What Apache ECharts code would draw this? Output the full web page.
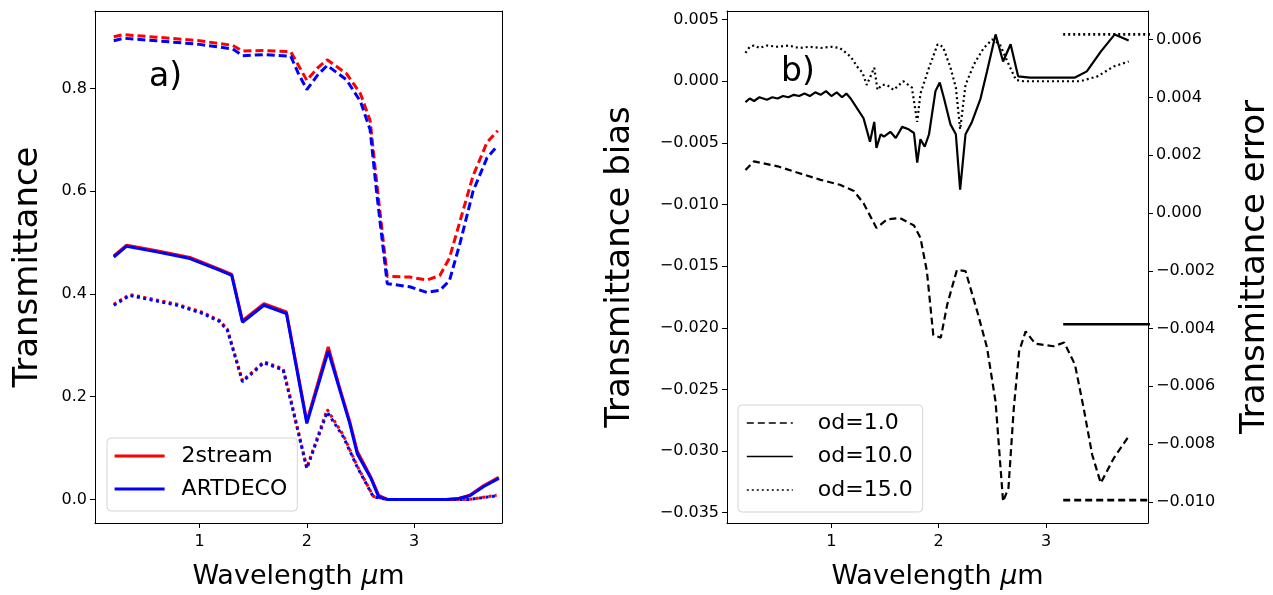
<!DOCTYPE html>
<html>
<head>
<meta charset="utf-8">
<script src="https://cdn.jsdelivr.net/npm/echarts@6/dist/echarts.min.js"></script>
<style>
html,body{margin:0;padding:0;background:#fff;}
#chart{width:1273px;height:595px;}
</style>
</head>
<body>
<div id="chart"></div>
<script>
// ---------- Panel a) : transmittance ----------
const wlA_dash = [0.2,0.29,0.6,1.0,1.31,1.40,1.6,1.85,1.92,2.0,2.1,2.19,2.37,2.5,2.59,2.65,2.75,2.96,3.12,3.24,3.33,3.43,3.55,3.68,3.78];
const red_dash  = [0.901,0.905,0.900,0.893,0.884,0.873,0.874,0.872,0.846,0.816,0.840,0.856,0.829,0.790,0.738,0.620,0.434,0.433,0.427,0.436,0.470,0.543,0.630,0.695,0.718];
const blue_dash = [0.893,0.898,0.893,0.886,0.877,0.864,0.866,0.863,0.830,0.798,0.826,0.845,0.817,0.775,0.720,0.600,0.420,0.414,0.403,0.407,0.426,0.500,0.600,0.665,0.689];

const wlA = [0.2,0.32,0.6,0.91,1.19,1.3,1.40,1.60,1.81,2.0,2.2,2.3,2.4,2.47,2.6,2.67,2.75,3.0,3.3,3.4,3.52,3.65,3.79];
const red_solid  = [0.474,0.495,0.484,0.471,0.448,0.438,0.348,0.381,0.365,0.152,0.297,0.222,0.152,0.094,0.042,0.008,0.0,0.0,0.0,0.001,0.008,0.027,0.043];
const blue_solid = [0.472,0.493,0.482,0.469,0.446,0.436,0.345,0.378,0.362,0.148,0.289,0.218,0.148,0.089,0.040,0.005,0.0,0.0,0.0,0.001,0.007,0.025,0.041];

const wlA_dot = [0.2,0.35,0.79,1.03,1.19,1.26,1.35,1.40,1.47,1.60,1.78,1.85,2.0,2.19,2.34,2.47,2.62,2.75,3.0,3.3,3.52,3.77];
const red_dot  = [0.380,0.399,0.380,0.364,0.348,0.331,0.267,0.231,0.244,0.268,0.254,0.195,0.062,0.175,0.125,0.065,0.006,0.0,0.0,0.0,0.0,0.008];
const blue_dot = [0.378,0.397,0.378,0.362,0.346,0.329,0.265,0.229,0.242,0.266,0.252,0.192,0.060,0.170,0.122,0.063,0.005,0.0,0.0,0.0,0.0,0.007];

// ---------- Panel b) : bias (left axis) ----------
const wlB_od1 = [0.2,0.28,0.5,0.68,0.9,1.08,1.21,1.30,1.42,1.52,1.64,1.77,1.83,1.89,1.95,2.02,2.08,2.17,2.25,2.36,2.45,2.53,2.60,2.65,2.70,2.75,2.81,2.90,3.07,3.17,3.27,3.35,3.43,3.51,3.63,3.77];
const bias_od1 = [-0.0072,-0.0065,-0.0069,-0.0074,-0.0080,-0.0084,-0.0089,-0.0099,-0.0119,-0.0112,-0.0111,-0.0117,-0.0127,-0.0154,-0.0206,-0.0208,-0.0181,-0.0153,-0.0154,-0.0187,-0.0216,-0.0260,-0.0341,-0.0330,-0.0265,-0.0219,-0.0203,-0.0213,-0.0215,-0.0212,-0.0230,-0.0265,-0.0303,-0.0326,-0.0306,-0.0288];

const wlB_od10 = [0.2,0.24,0.28,0.33,0.4,0.45,0.5,0.55,0.6,0.65,0.7,0.75,0.8,0.85,0.9,0.95,1.0,1.05,1.1,1.14,1.18,1.24,1.30,1.36,1.40,1.42,1.46,1.49,1.55,1.60,1.66,1.72,1.77,1.80,1.83,1.87,1.91,1.97,2.01,2.05,2.11,2.16,2.20,2.25,2.31,2.39,2.45,2.53,2.60,2.67,2.74,2.85,3.0,3.27,3.38,3.51,3.64,3.77];
const bias_od10 = [-0.0017,-0.0014,-0.0016,-0.0013,-0.0015,-0.0013,-0.0014,-0.0012,-0.0013,-0.0011,-0.0012,-0.0010,-0.0012,-0.0009,-0.0011,-0.0008,-0.0012,-0.0009,-0.0013,-0.0010,-0.0014,-0.0022,-0.0030,-0.0049,-0.0033,-0.0054,-0.0043,-0.0045,-0.0041,-0.0046,-0.0037,-0.0039,-0.0042,-0.0066,-0.0047,-0.0053,-0.0043,-0.0008,-0.0001,-0.0014,-0.0035,-0.0043,-0.0088,-0.0043,-0.0033,-0.0014,0.0008,0.0038,0.0016,0.0030,0.0004,0.0003,0.0003,0.0003,0.0008,0.0024,0.0038,0.0033];

const wlB_od15 = [0.2,0.24,0.28,0.33,0.4,0.5,0.6,0.7,0.8,0.9,1.0,1.08,1.18,1.24,1.29,1.33,1.40,1.43,1.47,1.52,1.58,1.67,1.75,1.80,1.83,1.91,1.99,2.04,2.11,2.16,2.20,2.25,2.33,2.42,2.50,2.57,2.64,2.72,2.79,3.0,3.32,3.48,3.63,3.77];
const bias_od15 = [0.0023,0.0028,0.0029,0.0027,0.0029,0.0028,0.0029,0.0027,0.0028,0.0027,0.0028,0.0027,0.0020,0.0012,0.0007,-0.0003,0.0011,-0.0007,-0.0003,-0.0003,-0.0007,0.0000,-0.0005,-0.0033,-0.0010,0.0011,0.0030,0.0028,0.0011,-0.0005,-0.0039,-0.0003,0.0014,0.0027,0.0034,0.0030,0.0016,0.0001,0.0000,0.0000,0.0000,0.0004,0.0012,0.0016];

// ---------- Panel b) : error (right axis) ----------
const wlB_err = [3.16,4.0];
const err_od1  = [-0.00994,-0.00994];
const err_od10 = [-0.00385,-0.00385];
const err_od15 = [0.00618,0.00618];

// ---------- tick labels ----------
const xTicks = [1,2,3];
const yTicksA = [0,0.2,0.4,0.6,0.8];
const yTicksBias = [-0.035,-0.03,-0.025,-0.02,-0.015,-0.01,-0.005,0,0.005];
const yTicksErr = [-0.010,-0.008,-0.006,-0.004,-0.002,0,0.002,0.004,0.006];

function zip(xs, ys){ return xs.map((x,i)=>[x, ys[i]]); }
function fmt(v, d){ const s = Math.abs(v).toFixed(d); return (v < -1e-12 ? '\u2212' : '') + s; }

const FONT = 'DejaVu Sans';
function xAxis(gridIndex, min, max){
  return {
    type:'value', gridIndex, min, max,
    name:'Wavelength {i|\u03bc}m', nameLocation:'middle', nameGap:40,
    nameTextStyle:{fontFamily:FONT, fontSize:27, color:'#000',
      rich:{i:{fontFamily:FONT, fontStyle:'italic', fontSize:27, color:'#000'}}},
    axisLine:{show:true, onZero:false, lineStyle:{color:'#000'}},
    axisTick:{show:true, inside:false, length:5, customValues:xTicks, lineStyle:{color:'#000'}},
    axisLabel:{show:true, customValues:xTicks, fontFamily:FONT, fontSize:16, color:'#000', margin:11,
      formatter:v=>String(v)},
    splitLine:{show:false}
  };
}
function topAxis(gridIndex, min, max){
  return {type:'value', gridIndex, min, max, position:'top',
    axisLine:{show:true, onZero:false, lineStyle:{color:'#000'}},
    axisTick:{show:false}, axisLabel:{show:false}, splitLine:{show:false}};
}

const lwA = 3, lwB = 2.2;
function lineSeries(name, xs, ys, color, type, width, xi, yi){
  return {
    name, type:'line', xAxisIndex:xi, yAxisIndex:yi, data:zip(xs,ys),
    showSymbol:false, symbol:'none', smooth:false, clip:true,
    lineStyle:{color, width, type},
    itemStyle:{color},
    emphasis:{disabled:true}, animation:false, z:2
  };
}

const dashA = [8,4], dotA = [3,3.5];
const dashB = [7,4], dotB = [2,3];

const legendCommon = {
  orient:'vertical', itemHeight:14, selectedMode:false,
  backgroundColor:'rgba(255,255,255,0.8)', borderColor:'#d5d5d5', borderWidth:1, borderRadius:4,
  itemStyle:{opacity:0, borderWidth:0}
};

const option = {
  animation:false,
  backgroundColor:'#fff',
  grid:[
    {left:95, top:11, width:407, height:512, containLabel:false},
    {left:727, top:11, width:421, height:512, containLabel:false}
  ],
  xAxis:[
    xAxis(0, 0.025, 3.82),
    xAxis(1, 0.028, 3.95),
    topAxis(0, 0.025, 3.82),
    topAxis(1, 0.028, 3.95)
  ],
  yAxis:[
    {type:'value', gridIndex:0, min:-0.046, max:0.951, position:'left',
      name:'Transmittance', nameLocation:'middle', nameGap:50, nameRotate:90,
      nameTextStyle:{fontFamily:FONT, fontSize:34, color:'#000'},
      axisLine:{show:true, onZero:false, lineStyle:{color:'#000'}},
      axisTick:{show:true, length:5, customValues:yTicksA, lineStyle:{color:'#000'}},
      axisLabel:{show:true, customValues:yTicksA, fontFamily:FONT, fontSize:16, color:'#000', margin:8, formatter:v=>fmt(v,1)},
      splitLine:{show:false}},
    {type:'value', gridIndex:0, min:-0.046, max:0.951, position:'right',
      axisLine:{show:true, onZero:false, lineStyle:{color:'#000'}},
      axisTick:{show:false}, axisLabel:{show:false}, splitLine:{show:false}},
    {type:'value', gridIndex:1, min:-0.03584, max:0.0057, position:'left',
      name:'Transmittance bias', nameLocation:'middle', nameGap:90, nameRotate:90,
      nameTextStyle:{fontFamily:FONT, fontSize:34, color:'#000'},
      axisLine:{show:true, onZero:false, lineStyle:{color:'#000'}},
      axisTick:{show:true, length:5, customValues:yTicksBias, lineStyle:{color:'#000'}},
      axisLabel:{show:true, customValues:yTicksBias, fontFamily:FONT, fontSize:16, color:'#000', margin:8, formatter:v=>fmt(v,3)},
      splitLine:{show:false}},
    {type:'value', gridIndex:1, min:-0.01073, max:0.00699, position:'right',
      name:'Transmittance error', nameLocation:'middle', nameGap:90, nameRotate:90,
      nameTextStyle:{fontFamily:FONT, fontSize:34, color:'#000'},
      axisLine:{show:true, onZero:false, lineStyle:{color:'#000'}},
      axisTick:{show:true, length:5, customValues:yTicksErr, lineStyle:{color:'#000'}},
      axisLabel:{show:true, customValues:yTicksErr, fontFamily:FONT, fontSize:16, color:'#000', margin:8, formatter:v=>fmt(v,3)},
      splitLine:{show:false}}
  ],
  title:[
    {text:'a)', left:144, top:56, textStyle:{fontFamily:FONT, fontSize:33, fontWeight:'normal', color:'#000'}},
    {text:'b)', left:776, top:51, textStyle:{fontFamily:FONT, fontSize:33, fontWeight:'normal', color:'#000'}}
  ],
  legend:[
    Object.assign({}, legendCommon, {data:['2stream','ARTDECO'], left:107, top:438,
      itemWidth:50, itemGap:11, padding:[7,10,11,6],
      lineStyle:{width:3.2},
      textStyle:{fontFamily:FONT, fontSize:22, color:'#000', lineHeight:22, padding:[0,0,0,12]}}),
    Object.assign({}, legendCommon, {data:['od=1.0','od=10.0','od=15.0'], left:738, top:405,
      itemWidth:46, itemGap:11.5, padding:[7,10,11,8],
      lineStyle:{width:1.6},
      textStyle:{fontFamily:FONT, fontSize:22, color:'#000', lineHeight:22, padding:[0,0,0,20]}})
  ],
  series:[
    lineSeries('2stream dash', wlA_dash, red_dash, '#ff0000', dashA, lwA, 0, 0),
    lineSeries('2stream', wlA, red_solid, '#ff0000', 'solid', lwA, 0, 0),
    lineSeries('2stream dot', wlA_dot, red_dot, '#ff0000', dotA, lwA, 0, 0),
    lineSeries('ARTDECO dash', wlA_dash, blue_dash, '#0000ff', dashA, lwA, 0, 0),
    lineSeries('ARTDECO', wlA, blue_solid, '#0000ff', 'solid', lwA, 0, 0),
    lineSeries('ARTDECO dot', wlA_dot, blue_dot, '#0000ff', dotA, lwA, 0, 0),

    lineSeries('od=1.0', wlB_od1, bias_od1, '#000', dashB, lwB, 1, 2),
    lineSeries('od=10.0', wlB_od10, bias_od10, '#000', 'solid', lwB, 1, 2),
    lineSeries('od=15.0', wlB_od15, bias_od15, '#000', dotB, lwB, 1, 2),
    lineSeries('err od=1.0', wlB_err, err_od1, '#000', dashB, 2.6, 1, 3),
    lineSeries('err od=10.0', wlB_err, err_od10, '#000', 'solid', 2.6, 1, 3),
    lineSeries('err od=15.0', wlB_err, err_od15, '#000', dotB, 2.6, 1, 3)
  ]
};

const chart = echarts.init(document.getElementById('chart'), null, {renderer:'canvas'});
chart.setOption(option);
</script>
</body>
</html>
